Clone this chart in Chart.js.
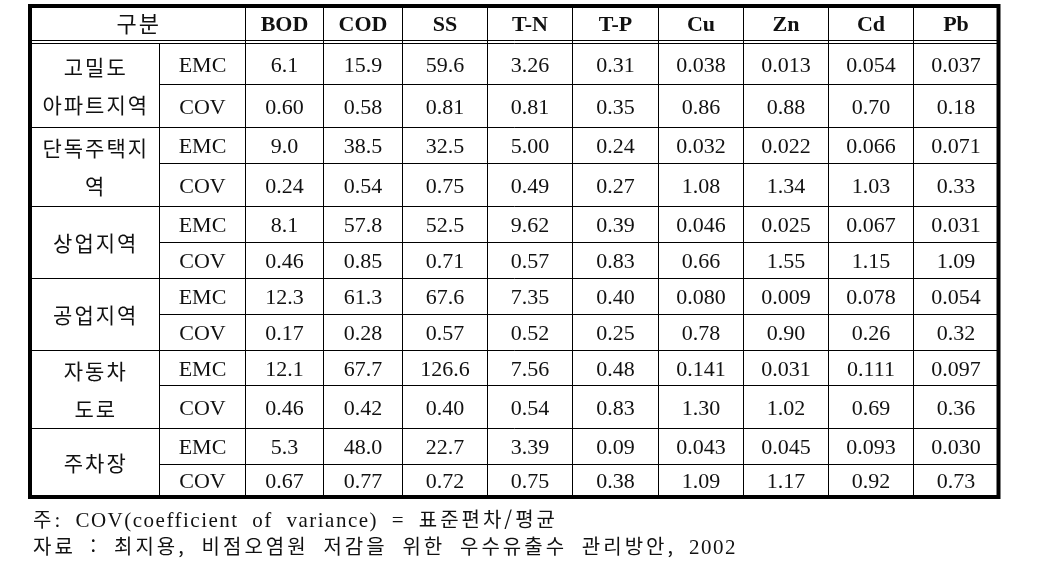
<!DOCTYPE html>
<html lang="ko">
<head>
<meta charset="utf-8">
<script src="https://cdn.jsdelivr.net/npm/chart.js@4.4.0/dist/chart.umd.min.js"></script>
<style>
  body { margin: 0; background: #fff; }
  #wrap { position: relative; width: 1062px; height: 588px; }
  #emcTable { position: absolute; left: 0; top: 0; }
  .note {
    position: absolute; left: 33px; white-space: nowrap;
    font: 21px "Liberation Serif", "Noto Sans CJK KR", serif;
    letter-spacing: 1.5px; line-height: 27px; color: #111;
  }
  .note .ko { font-family: "Noto Sans CJK KR", sans-serif; font-size: 20px; letter-spacing: 3px; }
</style>
</head>
<body>
<div id="wrap">
  <canvas id="emcTable" width="1062" height="588"></canvas>
  <div class="note" data-width="525" style="top:505px"><span class="ko">주</span>: COV(coefficient of variance) = <span class="ko">표준편차/평균</span></div>
  <div class="note" data-width="704" style="top:532px"><span class="ko">자료 : 최지용, 비점오염원 저감을 위한 우수유출수 관리방안,</span> 2002</div>
</div>
<script>
// data
const headerLabel = "구분";
const metrics = ["BOD", "COD", "SS", "T-N", "T-P", "Cu", "Zn", "Cd", "Pb"];
const landUses = [["고밀도", "아파트지역"], ["단독주택지", "역"], ["상업지역"], ["공업지역"], ["자동차", "도로"], ["주차장"]];
const statTypes = ["EMC", "COV"];
const emcValues = [
    ["6.1", "15.9", "59.6", "3.26", "0.31", "0.038", "0.013", "0.054", "0.037"],
    ["9.0", "38.5", "32.5", "5.00", "0.24", "0.032", "0.022", "0.066", "0.071"],
    ["8.1", "57.8", "52.5", "9.62", "0.39", "0.046", "0.025", "0.067", "0.031"],
    ["12.3", "61.3", "67.6", "7.35", "0.40", "0.080", "0.009", "0.078", "0.054"],
    ["12.1", "67.7", "126.6", "7.56", "0.48", "0.141", "0.031", "0.111", "0.097"],
    ["5.3", "48.0", "22.7", "3.39", "0.09", "0.043", "0.045", "0.093", "0.030"]
];
const covValues = [
    ["0.60", "0.58", "0.81", "0.81", "0.35", "0.86", "0.88", "0.70", "0.18"],
    ["0.24", "0.54", "0.75", "0.49", "0.27", "1.08", "1.34", "1.03", "0.33"],
    ["0.46", "0.85", "0.71", "0.57", "0.83", "0.66", "1.55", "1.15", "1.09"],
    ["0.17", "0.28", "0.57", "0.52", "0.25", "0.78", "0.90", "0.26", "0.32"],
    ["0.46", "0.42", "0.40", "0.54", "0.83", "1.30", "1.02", "0.69", "0.36"],
    ["0.67", "0.77", "0.72", "0.75", "0.38", "1.09", "1.17", "0.92", "0.73"]
];

// layout (scale units): column and row edges of the grid
const colEdges = [0, 129.5, 215.5, 293.5, 372.5, 457.5, 542.5, 628.5, 713.5, 798.5, 883.5, 968.5];
const headerLines = [34.5, 37.5];
const rowEdges = [37.5, 78.5, 121.5, 157.5, 200.5, 236.5, 272.5, 308.5, 344.5, 379.5, 422.5, 458.5, 491];

const latinFont = '22px "Liberation Serif", serif';
const boldFont = 'bold 22px "Liberation Serif", serif';
const koreanFont = '21px "Noto Sans CJK KR", sans-serif';
const koreanHeadFont = '22px "Noto Sans CJK KR", sans-serif';

function drawLine(ctx, x1, y1, x2, y2, w) {
    ctx.beginPath();
    ctx.lineWidth = w;
    ctx.moveTo(x1, y1);
    ctx.lineTo(x2, y2);
    ctx.stroke();
}

// text centred on (cx, cy); offset puts the baseline under the glyph middle
function drawText(ctx, text, cx, cy, font, offset, spacing) {
    ctx.font = font;
    ctx.letterSpacing = (spacing || 0) + "px";
    ctx.textAlign = "center";
    ctx.textBaseline = "alphabetic";
    ctx.fillText(text, cx + (spacing || 0) / 2, cy + offset);
    ctx.letterSpacing = "0px";
}

const tablePlugin = {
    id: "tableGrid",
    afterDraw(chart) {
        const ctx = chart.ctx;
        const px = v => chart.scales.x.getPixelForValue(v);
        const py = v => chart.scales.y.getPixelForValue(v);
        const left = px(0), right = px(colEdges[colEdges.length - 1]);
        const top = py(0), bottom = py(rowEdges[rowEdges.length - 1]);

        ctx.save();
        ctx.strokeStyle = "#000";
        ctx.fillStyle = "#111";

        // header double rule
        headerLines.forEach(v => drawLine(ctx, left, py(v), right, py(v), 1));

        // vertical rules
        drawLine(ctx, px(colEdges[1]), py(rowEdges[0]), px(colEdges[1]), bottom, 1);
        for (let c = 2; c < colEdges.length - 1; c++) {
            drawLine(ctx, px(colEdges[c]), top, px(colEdges[c]), bottom, 1);
        }

        // horizontal rules: group separators span everything, EMC/COV split skips the group column
        for (let r = 1; r < rowEdges.length - 1; r++) {
            const x1 = r % 2 === 0 ? left : px(colEdges[1]);
            drawLine(ctx, x1, py(rowEdges[r]), right, py(rowEdges[r]), 1);
        }

        // outer frame
        ctx.lineWidth = 4;
        ctx.strokeRect(left, top, right - left, bottom - top);

        // header
        const headY = (top + py(headerLines[0])) / 2;
        drawText(ctx, headerLabel, (px(colEdges[0]) + px(colEdges[2])) / 2, headY, koreanHeadFont, 8.5, 2);
        metrics.forEach((m, i) => {
            drawText(ctx, m, (px(colEdges[i + 2]) + px(colEdges[i + 3])) / 2, headY, boldFont, 8);
        });

        // body
        landUses.forEach((names, g) => {
            const gTop = py(rowEdges[g * 2]);
            const gBottom = py(rowEdges[g * 2 + 2]);
            const gMid = (gTop + gBottom) / 2;
            const gx = (px(colEdges[0]) + px(colEdges[1])) / 2;
            names.forEach((name, k) => {
                const cy = gMid + (k - (names.length - 1) / 2) * 38;
                drawText(ctx, name, gx, cy, koreanFont, 8, 2);
            });

            [emcValues[g], covValues[g]].forEach((vals, s) => {
                const r = g * 2 + s;
                const cy = (py(rowEdges[r]) + py(rowEdges[r + 1])) / 2;
                drawText(ctx, statTypes[s], (px(colEdges[1]) + px(colEdges[2])) / 2, cy, latinFont, 7.5);
                vals.forEach((v, i) => {
                    drawText(ctx, v, (px(colEdges[i + 2]) + px(colEdges[i + 3])) / 2, cy, latinFont, 7.5);
                });
            });
        });
        ctx.restore();
    }
};

const tableChart = new Chart(document.getElementById("emcTable").getContext("2d"), {
    type: "scatter",
    data: { datasets: [] },
    options: {
        responsive: false,
        animation: false,
        devicePixelRatio: 1,
        layout: { padding: { left: 30, top: 6, right: 63.5, bottom: 91 } },
        plugins: { legend: { display: false }, tooltip: { enabled: false } },
        scales: {
            x: { type: "linear", min: 0, max: colEdges[colEdges.length - 1], display: false },
            y: { type: "linear", min: 0, max: rowEdges[rowEdges.length - 1], reverse: true, display: false }
        }
    },
    plugins: [tablePlugin]
});

// widen the word gaps of the footnotes to the width they take in the source
document.querySelectorAll(".note").forEach(el => {
    const target = parseFloat(el.dataset.width);
    const natural = el.getBoundingClientRect().width;
    const spaces = (el.textContent.match(/ /g) || []).length;
    el.style.wordSpacing = Math.max(0, (target - natural) / spaces) + "px";
});
</script>
</body>
</html>
